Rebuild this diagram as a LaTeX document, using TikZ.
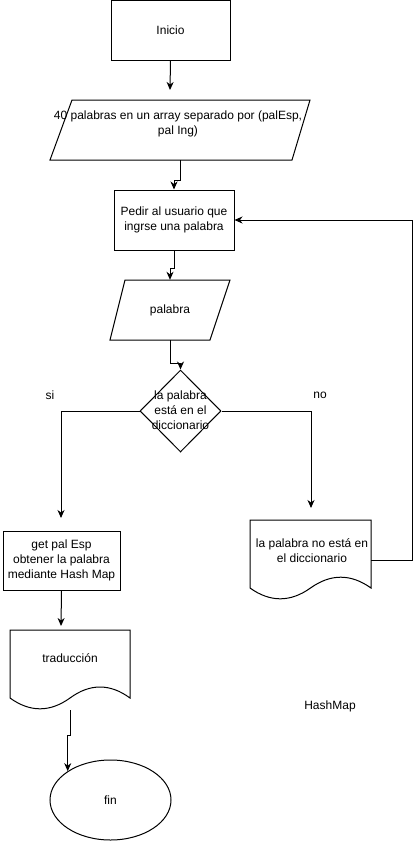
\documentclass[tikz,border=0pt]{standalone}
\usepackage{fontspec}
\setmainfont{Liberation Sans}
\usetikzlibrary{arrows.meta,shapes.geometric}
\begin{document}
\begin{tikzpicture}[x=1pt,y=-1pt,
  every node/.style={font=\fontsize{12}{15}\selectfont, inner sep=0pt},
  line/.style={draw=black, line width=1pt},
  flow/.style={line, -{Stealth[length=8pt,width=7pt,inset=2.5pt]}},
  procbox/.style={rectangle, draw, line width=1pt},
  txt/.style={align=center}
]
\useasboundingbox (0,0) rectangle (420,841);
\fill[white] (0,0) rectangle (420,841);

% start
\node[procbox, minimum width=119pt, minimum height=60pt] (ini) at (170.5,30) {Inicio};

% input: word pairs
\draw[line] (72,100) -- (310,100) -- (292,160) -- (50,160) -- cycle;
\node[rectangle, minimum width=260pt, minimum height=60pt] (datos) at (180,130) {};
\node[txt] (datostxt) at (178,124) {40 palabras en un array separado por (palEsp,\\pal Ing)};
\coordinate (datosin) at (170,90);

% ask user
\node[procbox, minimum width=120pt, minimum height=60pt, txt] (pedir) at (174,220) {Pedir al usuario que\\ingrse una palabra};

% input word
\draw[line] (125,280) -- (230,280) -- (210,340) -- (110,340) -- cycle;
\node[rectangle, minimum width=120pt, minimum height=60pt] (pal) at (170,310) {palabra};

% decision
\node[diamond, draw, line width=1pt, minimum width=81pt, minimum height=82pt] (dec) at (180.5,411) {};
\node[txt] (dectxt) at (180.5,410) {la palabra\\está en el\\diccionario};
\node (si) at (50,395) {si};
\node (no) at (320,395) {no};
\coordinate (siin) at (61,518);
\coordinate (noin) at (311,508);

% found branch
\node[procbox, minimum width=117pt, minimum height=59pt, txt] (get) at (61.5,560.5) {get pal Esp\\obtener la palabra\\mediante Hash Map};
\coordinate (tradin) at (61,626);

% output: translation (document shape with wavy bottom)
\draw[line] (10,630) -- (130,630) -- (130,698)
  .. controls (110,683.33) and (90,683.33) .. (70,698)
  .. controls (50,712.4) and (30,712.4) .. (10,698) -- cycle;
\node[rectangle, minimum width=120pt, minimum height=80pt] (trad) at (70,670) {};
\node (tradtxt) at (70,658) {traducción};

% not found branch
\draw[line] (250,520) -- (371,520) -- (371,588)
  .. controls (350.83,573.6) and (330.67,573.6) .. (310.5,588)
  .. controls (290.33,602.4) and (270.17,602.4) .. (250,588) -- cycle;
\node[rectangle, minimum width=121pt, minimum height=80pt] (noesta) at (310.5,560) {};
\node[txt] (noestatxt) at (312,550.5) {la palabra no está en\\el diccionario};

% end
\node[ellipse, draw, line width=1pt, minimum width=121pt, minimum height=80pt] (fin) at (110.5,800) {fin};

\node (hm) at (330,706) {HashMap};

% connectors
\draw[flow] (ini.south) -- (datosin);
\draw[flow] (datos.south) -- ++(0,20) -| (pedir.north);
\draw[flow] (pedir.south) -- ++(0,18) -| (pal.north);
\draw[flow] (pal.south) -- ++(0,23) -| (dec.north);
\draw[flow] (dec.west) -| (siin);
\draw[flow] (dec.east) -| (noin);
\draw[flow] (get.south) -- (tradin);
\draw[flow] (noesta.east) -- ++(41,0) |- (pedir.east);
\draw[flow] (trad.south) -- ++(0,25) -| (fin.146);
\end{tikzpicture}
\end{document}
